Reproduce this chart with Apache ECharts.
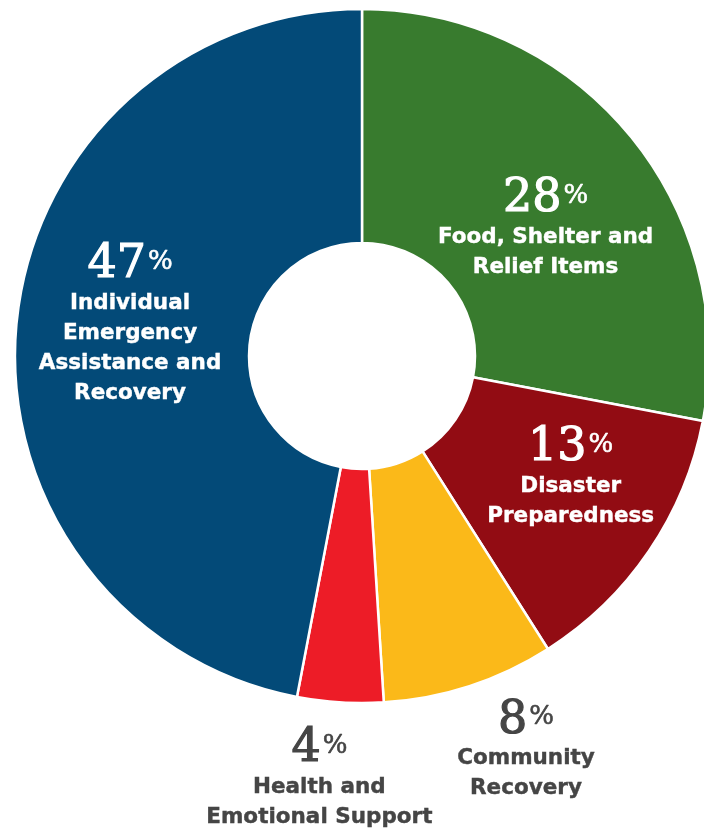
<!DOCTYPE html>
<html>
<head>
<meta charset="utf-8">
<script src="https://cdn.jsdelivr.net/npm/echarts@6/dist/echarts.min.js"></script>
<style>
html,body{margin:0;padding:0;background:#fff;}
#c{width:704px;height:830px;}
</style>
</head>
<body>
<div id="c"></div>
<script>
const categories = [
  'Food, Shelter and\nRelief Items',
  'Disaster\nPreparedness',
  'Community\nRecovery',
  'Health and\nEmotional Support',
  'Individual\nEmergency\nAssistance and\nRecovery'
];
const values = [28, 13, 8, 4, 47];
const colors = ['#387b2e', '#920c13', '#fbb919', '#ed1c27', '#034a78'];
const textColors = ['#ffffff', '#ffffff', '#454545', '#454545', '#ffffff'];
const labelOffsets = [[4, 22], [16, -9], [92, 173], [-28, 191], [0, -9]];

const chart = echarts.init(document.getElementById('c'), null, {renderer: 'canvas'});
const data = categories.map((name, i) => ({
  name: name,
  value: values[i],
  itemStyle: {color: colors[i]},
  label: {
    offset: labelOffsets[i],
    rich: {
      n: {fontFamily: 'DejaVu Serif', fontSize: 46, color: textColors[i], textBorderColor: textColors[i], textBorderWidth: 1.2, lineHeight: 46, verticalAlign: 'middle'},
      p: {fontFamily: 'DejaVu Serif', fontSize: 26, color: textColors[i], textBorderColor: textColors[i], textBorderWidth: 0.6, lineHeight: 46, verticalAlign: 'middle', padding: [0, 0, 6, 2]},
      t: {fontFamily: 'DejaVu Sans', fontWeight: 'bold', fontSize: 21.5, color: textColors[i], textBorderColor: textColors[i], textBorderWidth: 0.4, lineHeight: 30, align: 'center'}
    }
  }
}));

chart.setOption({
  animation: false,
  series: [{
    type: 'pie',
    center: [362, 356],
    radius: [113, 347],
    startAngle: 90,
    clockwise: true,
    silent: true,
    itemStyle: {borderColor: '#ffffff', borderWidth: 2.5},
    label: {
      show: true,
      position: 'inside',
      align: 'center',
      formatter: function (p) {
        const lines = p.name.split('\n').map(s => '{t|' + s + '}').join('\n');
        return '{n|' + p.value + '}{p|%}\n' + lines;
      }
    },
    labelLine: {show: false},
    data: data
  }]
});
</script>
</body>
</html>
